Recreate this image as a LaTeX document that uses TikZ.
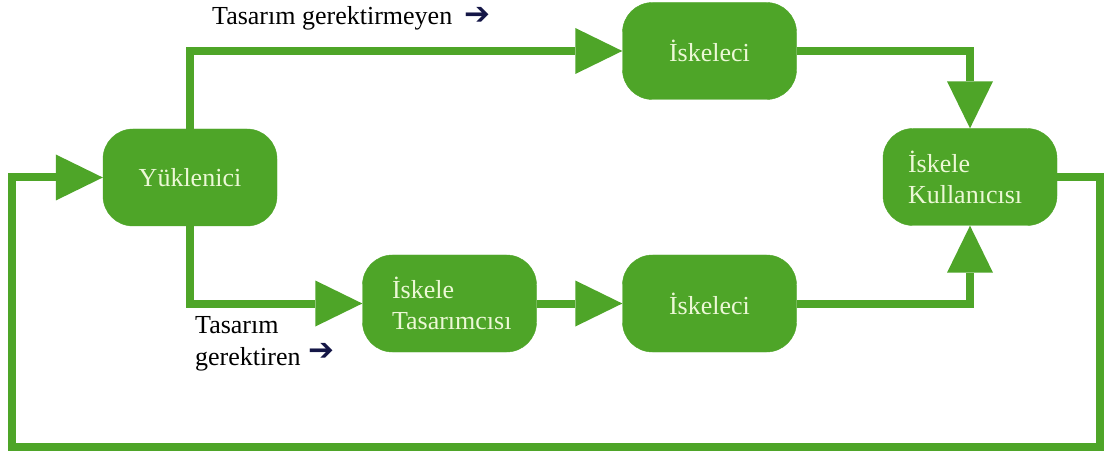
\documentclass[tikz,border=0pt]{standalone}
\usepackage{fontspec}
\setmainfont{Liberation Serif}
\newfontfamily\dvsans{DejaVu Sans Bold}
\usetikzlibrary{arrows.meta}
\definecolor{gr}{RGB}{78,165,40}
\definecolor{txt}{RGB}{236,248,214}
\definecolor{navy}{RGB}{20,22,70}
\newcommand{\rarr}{{\dvsans\fontsize{31}{31}\selectfont\color{navy}\raisebox{0pt}{➔}}}
\begin{document}
\begin{tikzpicture}[x=1pt,y=-1pt,
  box/.style={fill=gr, draw=gr, rounded corners=30pt, minimum width=174pt,
    minimum height=97pt, text=txt, font=\fontsize{26}{31}\selectfont, inner sep=0pt},
  conn/.style={draw=gr, line width=8pt,
    -{Triangle[length=47pt,width=46pt,line width=0pt]}},
  lbl/.style={font=\fontsize{26}{32}\selectfont, text=black, inner sep=0pt}]
\fill[white] (0,0) rectangle (1113,454);
\useasboundingbox (0,0) rectangle (1113,454);

\node[box] (yk) at (190,177.5) {Yüklenici};
\node[box] (is1) at (709.5,51) {İskeleci};
\node[box, align=left, text width=124pt] (ik) at (970,177) {İskele\\Kullanıcısı};
\node[box, align=left, text width=115pt] (it) at (449.5,303.5) {İskele\\Tasarımcısı};
\node[box] (is2) at (709.5,303.5) {İskeleci};

\coordinate (c1) at (1100,447);
\coordinate (c2) at (12,447);

\draw[conn] (yk.north) |- (is1.west);
\draw[conn] (is1.east) -| (ik.north);
\draw[conn] (yk.south) |- (it.west);
\draw[conn] (it.east) -- (is2.west);
\draw[conn] (is2.east) -| (ik.south);
\draw[conn] (ik.east) -| (c1) -- (c2) |- (yk.west);

\node[lbl, anchor=west] (l1) at (212,18) {Tasarım gerektirmeyen\hspace{12pt}\rarr};
\node[lbl, anchor=west, align=left] (l2) at (195,344) {Tasarım\\gerektiren\hspace{8pt}\raisebox{5pt}{\rarr}};
\end{tikzpicture}
\end{document}
